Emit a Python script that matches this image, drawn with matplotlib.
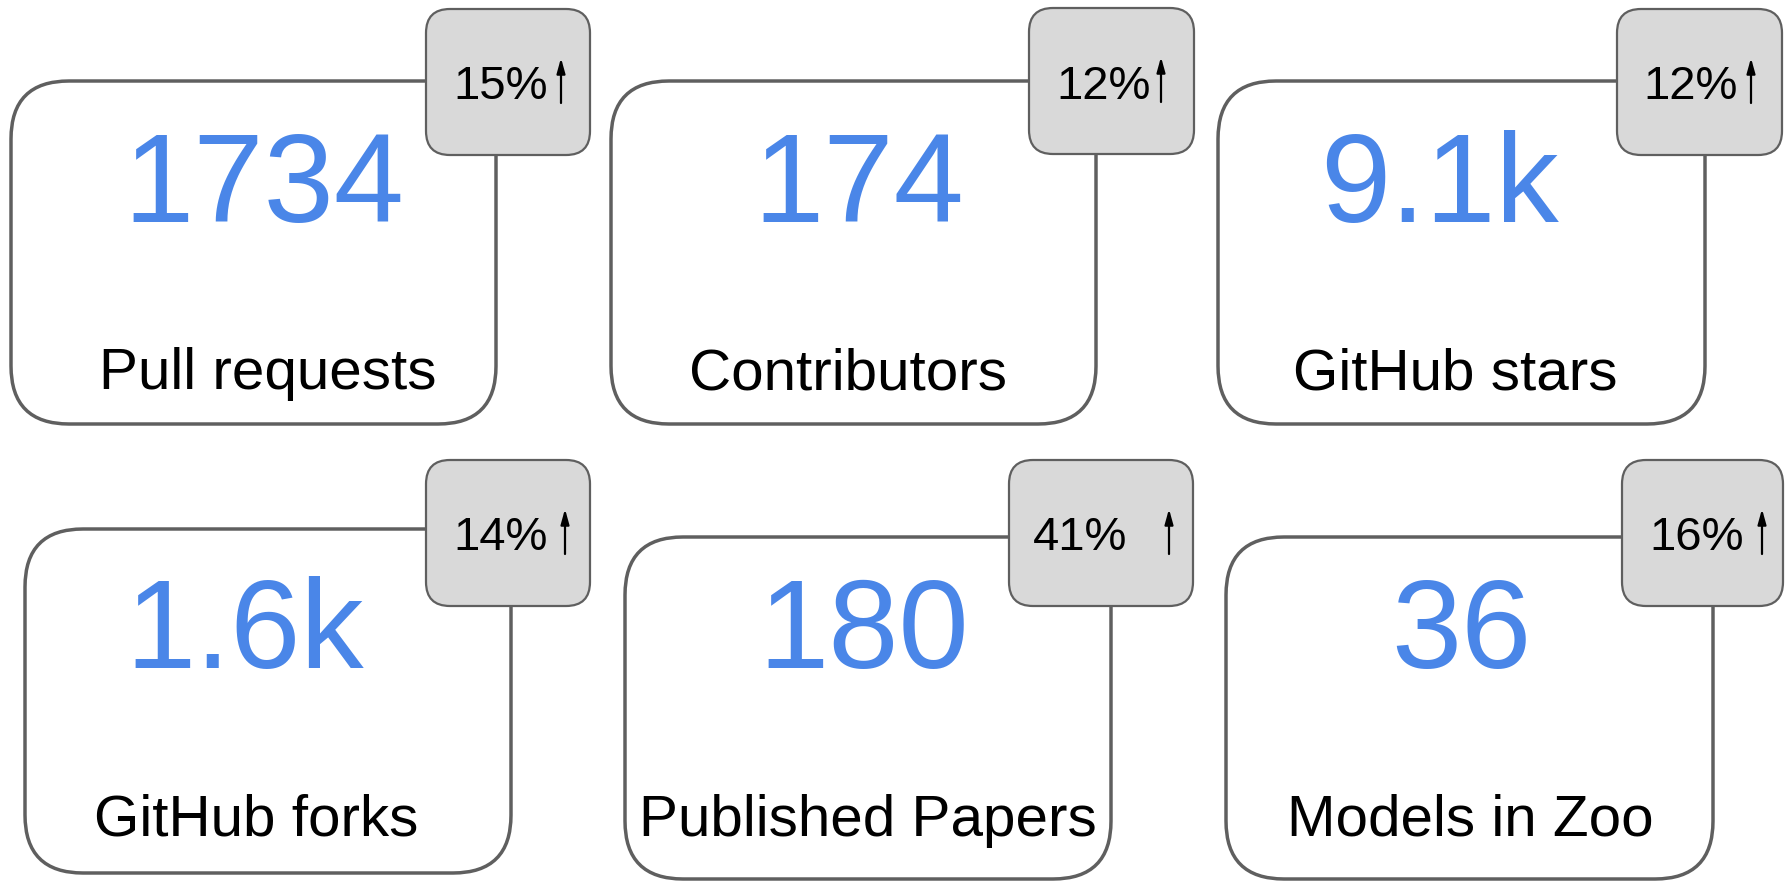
import matplotlib
matplotlib.use("Agg")
import matplotlib.pyplot as plt
from matplotlib.patches import FancyBboxPatch

plt.rcParams['font.family'] = ['Liberation Sans', 'DejaVu Sans']

# data
values = ["1734", "174", "9.1k", "1.6k", "180", "36"]
labels = ["Pull requests", "Contributors", "GitHub stars",
          "GitHub forks", "Published Papers", "Models in Zoo"]
growth = ["15%", "12%", "12%", "14%", "41%", "16%"]

# layout in pixel coords (x0, y0, x1, y1), y grows downward
card_boxes = [(11, 81, 496, 424), (611, 81, 1096, 424), (1218, 81, 1705, 424),
              (25, 529, 511, 873), (625, 537, 1111, 879), (1226, 537, 1713, 879)]
badge_boxes = [(426, 9, 590, 155), (1029, 8, 1194, 154), (1617, 9, 1782, 155),
               (426, 460, 590, 606), (1009, 460, 1193, 606), (1622, 460, 1783, 606)]
value_x = [264, 859, 1440, 245, 864, 1461]
label_x = [268, 848, 1455, 256, 868, 1470]
pct_x = [453, 1056, 1643, 453, 1033, 1649]
arrow_x = [561, 1161, 1751, 565, 1169, 1762]
value_base = [222, 222, 222, 668, 668, 668]
label_base = [389, 389, 389, 836, 836, 836]
pct_base = [99, 99, 99, 550, 550, 550]

W, H = 1785, 881
fig = plt.figure(figsize=(W / 100, H / 100), dpi=100)
ax = fig.add_axes([0, 0, 1, 1])
ax.set_xlim(0, W)
ax.set_ylim(H, 0)
ax.axis('off')

edge = '#5f5f5f'
blue = '#4a86e8'

for i in range(len(values)):
    x0, y0, x1, y1 = card_boxes[i]
    ax.add_patch(FancyBboxPatch((x0, y0), x1 - x0, y1 - y0,
                                boxstyle="round,pad=0,rounding_size=58",
                                fc='white', ec=edge, lw=2.5, zorder=1))
    bx0, by0, bx1, by1 = badge_boxes[i]
    ax.add_patch(FancyBboxPatch((bx0, by0), bx1 - bx0, by1 - by0,
                                boxstyle="round,pad=0,rounding_size=24",
                                fc='#d9d9d9', ec=edge, lw=1.6, zorder=3))

    ax.text(value_x[i], value_base[i], values[i], color=blue, fontsize=91,
            ha='center', va='baseline', zorder=2)
    ax.text(label_x[i], label_base[i], labels[i], color='black', fontsize=42,
            ha='center', va='baseline', zorder=2)
    ax.text(pct_x[i], pct_base[i], growth[i], color='black', fontsize=34,
            ha='left', va='baseline', zorder=4)
    ax.annotate('', xy=(arrow_x[i], by0 + 49), xytext=(arrow_x[i], by0 + 94),
                arrowprops=dict(arrowstyle='-|>,head_length=0.9,head_width=0.25',
                                color='black', lw=1.6, shrinkA=0, shrinkB=0),
                zorder=4)

fig.savefig("out.png", dpi=100, facecolor='white')
